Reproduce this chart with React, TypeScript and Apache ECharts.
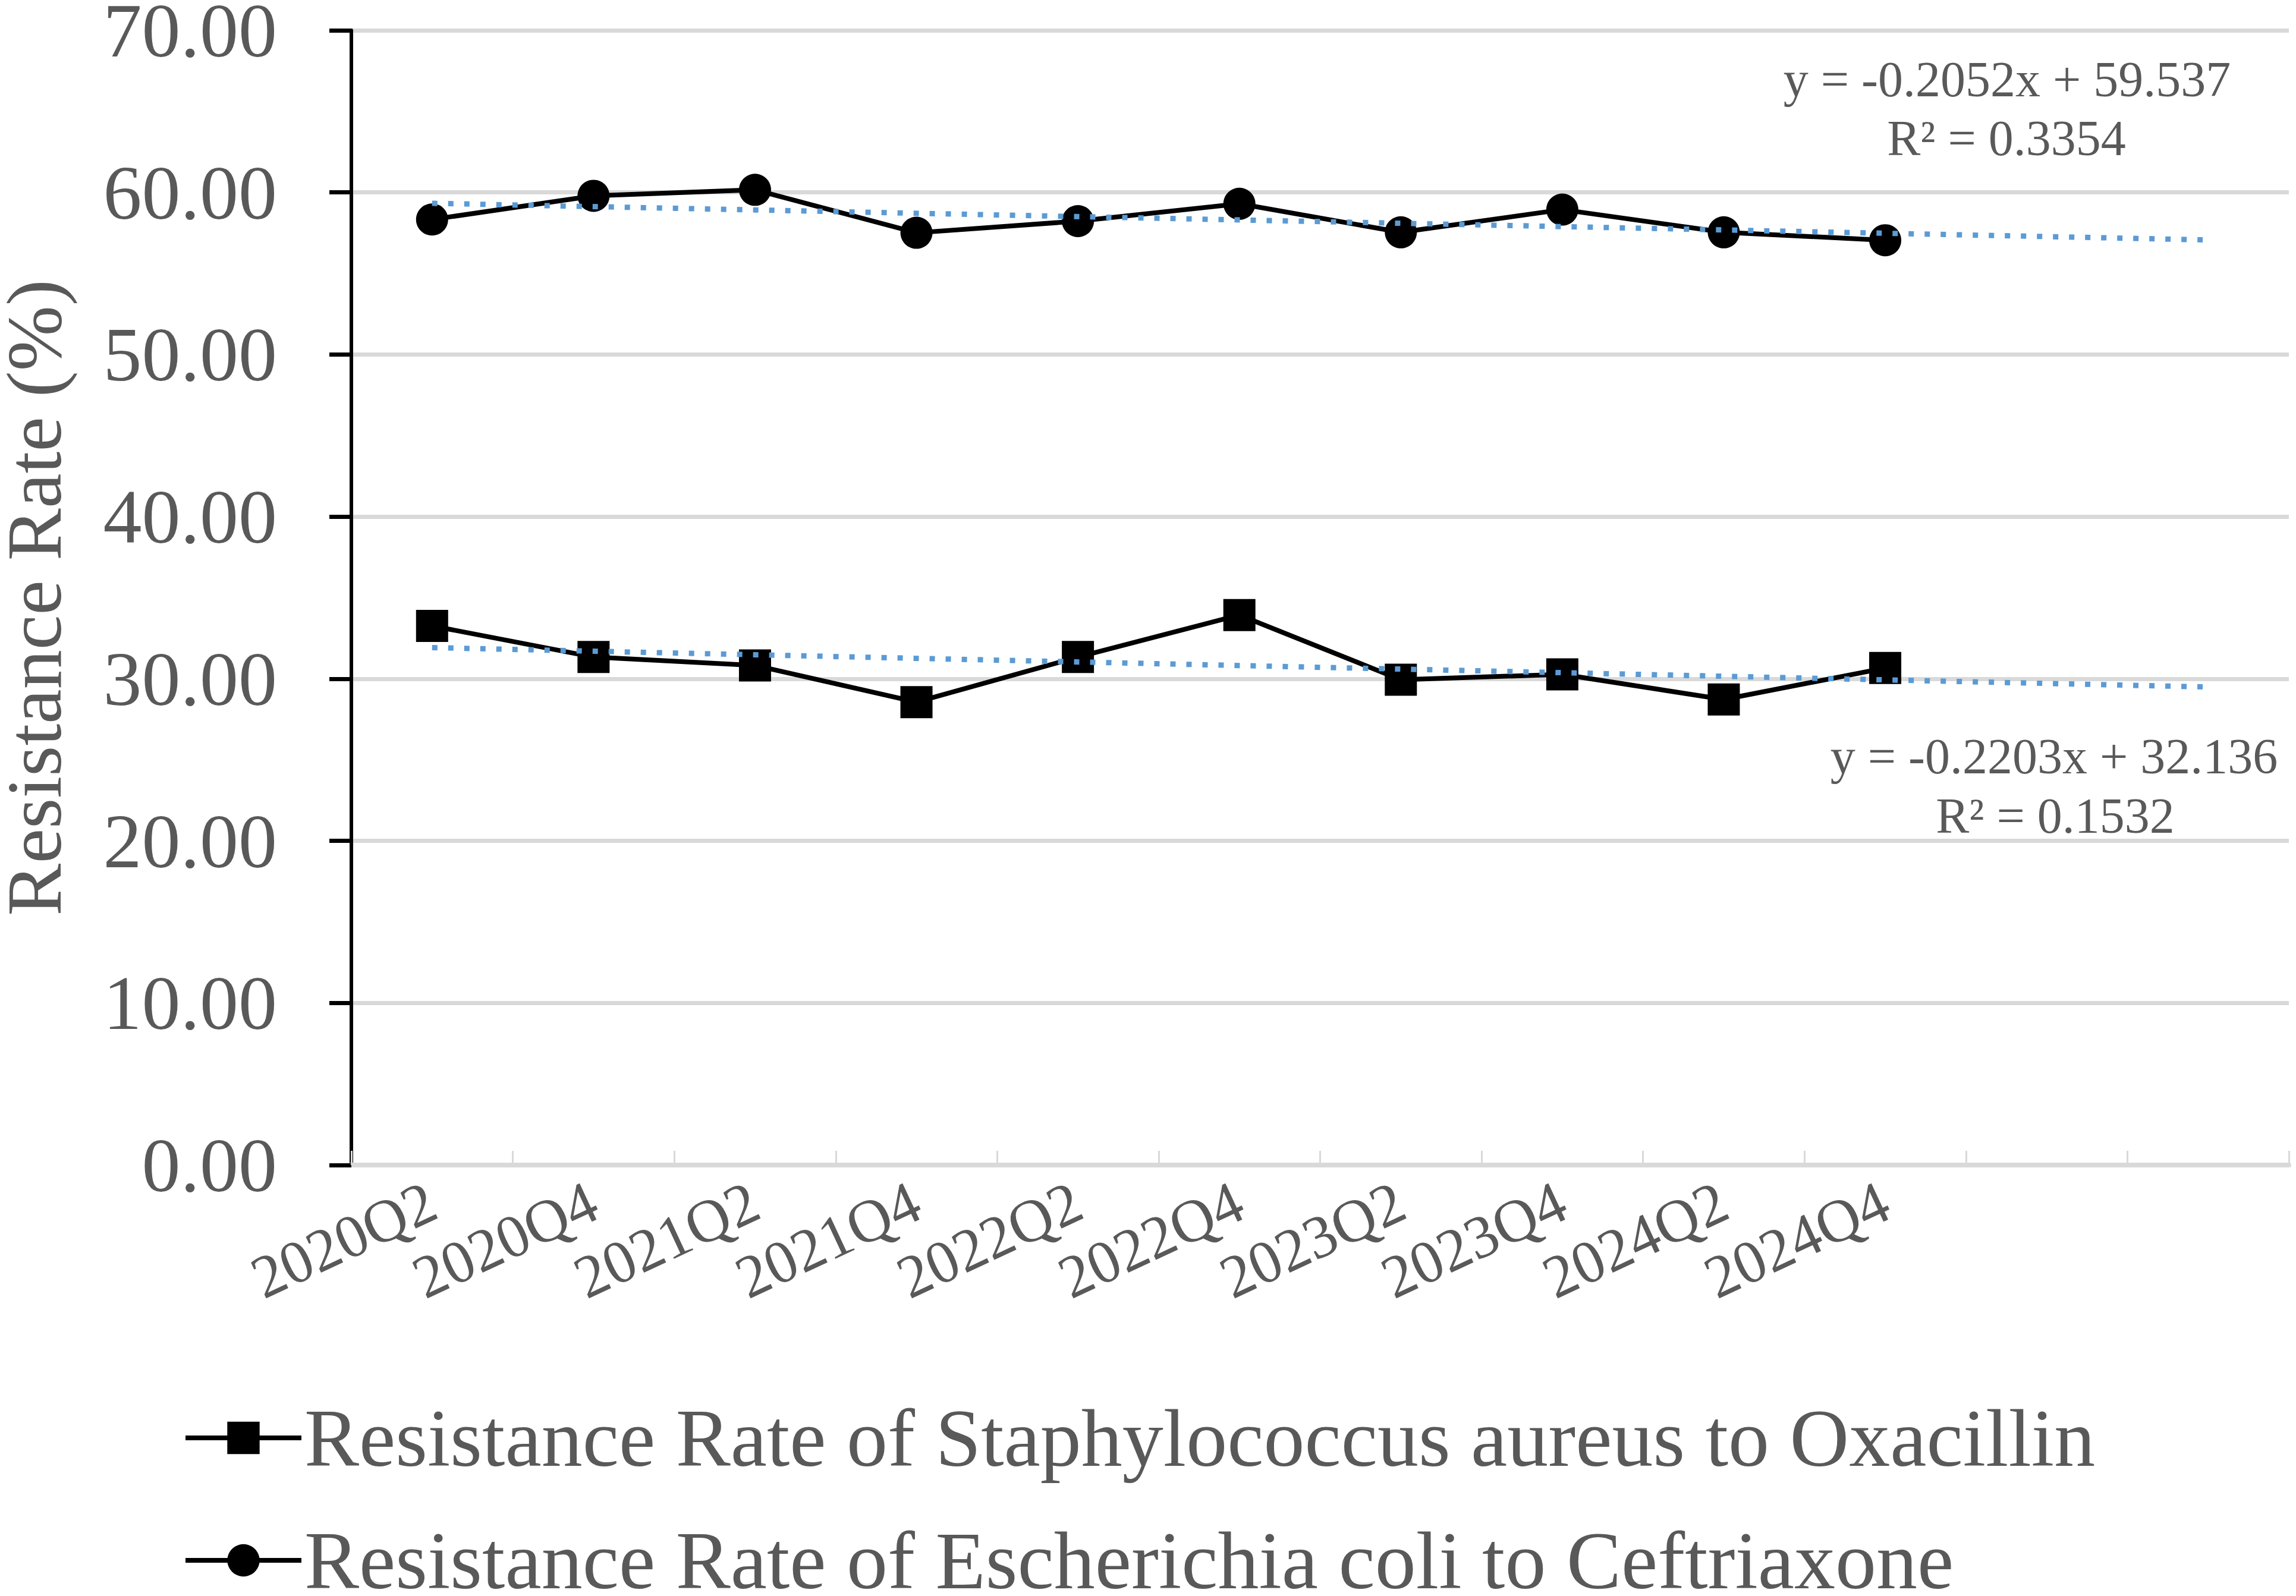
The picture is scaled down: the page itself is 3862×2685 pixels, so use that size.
import React, { useEffect, useRef } from "react";
import * as echarts from "echarts";

const categories = [
  "2020Q2", "2020Q4", "2021Q2", "2021Q4", "2022Q2",
  "2022Q4", "2023Q2", "2023Q4", "2024Q2", "2024Q4", "F1", "F2",
];
const saureusValues = [33.26, 31.34, 30.82, 28.56, 31.34, 33.93, 29.94, 30.27, 28.72, 30.66];
const ecoliValues = [58.33, 59.79, 60.16, 57.51, 58.23, 59.3, 57.54, 58.94, 57.54, 57.05];
// trendline endpoints (first and last category, incl. 2-period forecast)
const saureusTrend = [31.92, 29.49];
const ecoliTrend = [59.33, 57.07];
const yTicks = { min: 0, max: 70, interval: 10 };
const saName = "Resistance Rate of Staphylococcus aureus to Oxacillin";
const ecName = "Resistance Rate of Escherichia coli to Ceftriaxone";
const ecEq = ["y = -0.2052x + 59.537", "R² = 0.3354"];
const saEq = ["y = -0.2203x + 32.136", "R² = 0.1532"];

const FONT = "'Liberation Serif', 'Times New Roman', serif";
const GREY = "#595959";

export default function App() {
  const ref = useRef<HTMLDivElement>(null);
  useEffect(() => {
    if (!ref.current) return;
    const chart = echarts.init(ref.current, undefined, { renderer: "svg" });
    const last = categories.length - 1;
    const eqStyle = (text: string) => ({
      text,
      fill: GREY,
      fontSize: 84,
      fontFamily: FONT,
      textAlign: "center",
      textVerticalAlign: "middle",
    });
    const legendBase = {
      orient: "vertical",
      left: 308,
      itemWidth: 195,
      itemHeight: 68,
      padding: 0,
      lineStyle: { width: 8 },
      textStyle: { color: GREY, fontSize: 138, fontFamily: FONT },
    };
    chart.setOption({
      animation: false,
      backgroundColor: "#ffffff",
      grid: {
        left: 591,
        right: 12,
        top: 51,
        bottom: 725,
        containLabel: false,
        outerBoundsMode: "none",
      },
      xAxis: {
        type: "category",
        data: categories,
        boundaryGap: true,
        axisLine: { show: true, lineStyle: { color: "#D9D9D9", width: 8 } },
        axisTick: {
          show: true,
          inside: true,
          length: 24,
          interval: 0,
          lineStyle: { color: "#D9D9D9", width: 3 },
        },
        axisLabel: {
          interval: 0,
          rotate: 25,
          margin: 56,
          color: GREY,
          fontSize: 102,
          fontFamily: FONT,
          formatter: (v: string) => (v.startsWith("F") ? "" : v),
        },
        splitLine: { show: false },
      },
      yAxis: {
        type: "value",
        min: yTicks.min,
        max: yTicks.max,
        interval: yTicks.interval,
        name: "Resistance Rate (%)",
        nameLocation: "middle",
        nameGap: 468,
        nameRotate: 90,
        nameTextStyle: { color: GREY, fontSize: 132, fontFamily: FONT },
        axisLine: { show: true, lineStyle: { color: "#000000", width: 6 } },
        axisTick: { show: true, inside: false, length: 37, lineStyle: { color: "#000000", width: 7 } },
        axisLabel: {
          color: GREY,
          fontSize: 130,
          lineHeight: 100,
          fontFamily: FONT,
          margin: 125,
          formatter: (v: number) => v.toFixed(2),
        },
        splitLine: { show: true, lineStyle: { color: "#D9D9D9", width: 7 } },
      },
      legend: [
        { ...legendBase, top: 2350, data: [saName] },
        { ...legendBase, top: 2556, data: [ecName] },
      ],
      series: [
        {
          name: saName,
          type: "line",
          data: saureusValues,
          symbol: "rect",
          symbolSize: 54,
          itemStyle: { color: "#000000" },
          lineStyle: { color: "#000000", width: 8 },
          z: 3,
        },
        {
          name: ecName,
          type: "line",
          data: ecoliValues,
          symbol: "circle",
          symbolSize: 54,
          itemStyle: { color: "#000000" },
          lineStyle: { color: "#000000", width: 8 },
          z: 3,
        },
        {
          name: "saTrend",
          type: "line",
          data: [[0, saureusTrend[0]], [last, saureusTrend[1]]],
          symbol: "none",
          lineStyle: { color: "#5B9BD5", width: 9, type: [9, 18] },
          z: 5,
          silent: true,
        },
        {
          name: "ecTrend",
          type: "line",
          data: [[0, ecoliTrend[0]], [last, ecoliTrend[1]]],
          symbol: "none",
          lineStyle: { color: "#5B9BD5", width: 9, type: [9, 18] },
          z: 5,
          silent: true,
        },
      ],
      graphic: [
        { type: "text", x: 3376, y: 133, style: eqStyle(ecEq[0]) },
        { type: "text", x: 3375, y: 232, style: eqStyle(ecEq[1]) },
        { type: "text", x: 3455, y: 1272, style: eqStyle(saEq[0]) },
        { type: "text", x: 3457, y: 1372, style: eqStyle(saEq[1]) },
      ],
    });
    return () => chart.dispose();
  }, []);
  return (
    <div
      ref={ref}
      style={{ position: "fixed", left: 0, top: 0, width: 3862, height: 2685, background: "#fff" }}
    />
  );
}
